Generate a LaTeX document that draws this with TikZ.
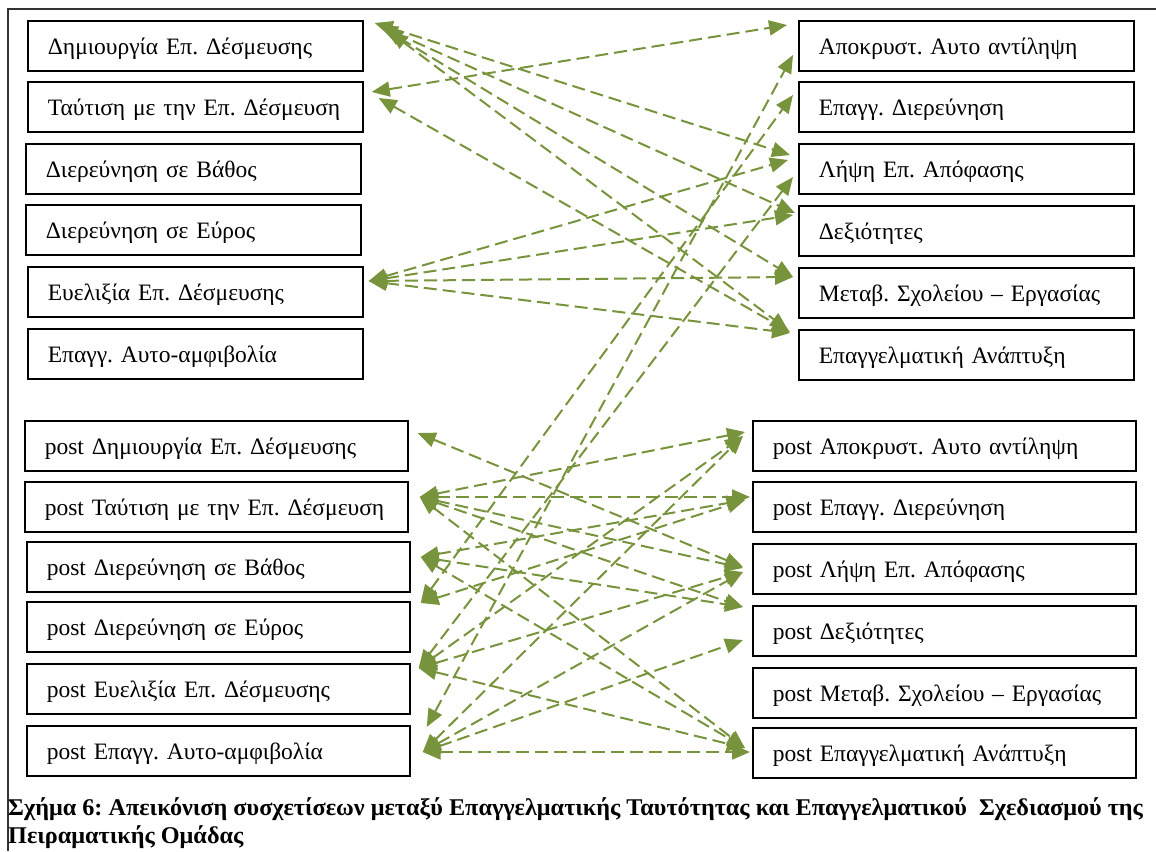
\documentclass[tikz,border=0pt]{standalone}
\usepackage{fontspec}
\setmainfont{Liberation Serif}
\usetikzlibrary{arrows.meta}
\definecolor{olivegr}{HTML}{77933C}
\frenchspacing
\tikzset{
  box/.style={draw=black, line width=1.7pt, anchor=north west, minimum height=50pt,
    inner xsep=20pt, inner ysep=0pt, align=left, text height=20pt, text depth=2pt,
    font=\fontsize{23.5}{26}\selectfont},
  tbox/.style={box, text width=295pt},
  bbox/.style={box, text width=343pt},
  conn/.style={draw=olivegr, line width=2pt, dash pattern=on 13pt off 6pt,
    {Triangle[length=18pt,width=15pt]}-{Triangle[length=18pt,width=15pt]}},
  captxt/.style={anchor=base west, inner sep=0pt, font=\fontsize{24}{28}\selectfont\bfseries},
}
\begin{document}
\begin{tikzpicture}[x=1pt,y=-1pt]
\useasboundingbox (0,0) rectangle (1156,851);
\draw[line width=1.2pt, black!80] (8,851) -- (8,9) -- (1156,9);
% top left
\node[tbox] (L1) at (27,20) {Δημιουργία Επ. Δέσμευσης};
\node[tbox] (L2) at (27,81) {Ταύτιση με την Επ. Δέσμευση};
\node[tbox] (L3) at (25,143) {Διερεύνηση σε Βάθος};
\node[tbox] (L4) at (25,204) {Διερεύνηση σε Εύρος};
\node[tbox] (L5) at (27,266) {Ευελιξία Επ. Δέσμευσης};
\node[tbox] (L6) at (27,328) {Επαγγ. Αυτο-αμφιβολία};
% top right
\node[tbox] (R1) at (798,20) {Αποκρυστ. Αυτο αντίληψη};
\node[tbox] (R2) at (798,81) {Επαγγ. Διερεύνηση};
\node[tbox] (R3) at (798,143) {Λήψη Επ. Απόφασης};
\node[tbox] (R4) at (798,205) {Δεξιότητες};
\node[tbox] (R5) at (798,267) {Μεταβ. Σχολείου – Εργασίας};
\node[tbox] (R6) at (798,329) {Επαγγελματική Ανάπτυξη};
% bottom left
\node[bbox] (P1) at (24,420) {post Δημιουργία Επ. Δέσμευσης};
\node[bbox] (P2) at (24,481) {post Ταύτιση με την Επ. Δέσμευση};
\node[bbox] (P3) at (26,541) {post Διερεύνηση σε Βάθος};
\node[bbox] (P4) at (26,601) {post Διερεύνηση σε Εύρος};
\node[bbox] (P5) at (26,663) {post Ευελιξία Επ. Δέσμευσης};
\node[bbox] (P6) at (26,725) {post Επαγγ. Αυτο-αμφιβολία};
% bottom right
\node[bbox] (Q1) at (752,420) {post Αποκρυστ. Αυτο αντίληψη};
\node[bbox] (Q2) at (752,481) {post Επαγγ. Διερεύνηση};
\node[bbox] (Q3) at (752,543) {post Λήψη Επ. Απόφασης};
\node[bbox] (Q4) at (752,605) {post Δεξιότητες};
\node[bbox] (Q5) at (752,667) {post Μεταβ. Σχολείου – Εργασίας};
\node[bbox] (Q6) at (752,727) {post Επαγγελματική Ανάπτυξη};
% top connectors
\draw[conn] ([shift={(11,3)}]L1.north east) -- ([shift={(-8,12)}]R3.north west);
\draw[conn] ([shift={(16,6)}]L1.north east) -- ([shift={(-3,8)}]R4.north west);
\draw[conn] ([shift={(21,9)}]L1.north east) -- ([shift={(-5,10)}]R5.north west);
\draw[conn] ([shift={(26,12)}]L1.north east) -- ([shift={(-10,1)}]R6.north west);
\draw[conn] ([shift={(8,11)}]L2.north east) -- ([shift={(-11,5)}]R1.north west);
\draw[conn] ([shift={(15,17)}]L2.north east) -- ([shift={(-8,3)}]R6.north west);
\draw[conn] ([shift={(5,15)}]L5.north east) -- ([shift={(-10,17)}]R3.north west);
\draw[conn] ([shift={(5,15)}]L5.north east) -- ([shift={(-5,10)}]R4.north west);
\draw[conn] ([shift={(5,15)}]L5.north east) -- ([shift={(-5,10)}]R5.north west);
\draw[conn] ([shift={(5,15)}]L5.north east) -- ([shift={(-8,4)}]R6.north west);
% long connectors
\draw[conn] ([shift={(16,2)}]P6.north east) -- ([shift={(-5,35)}]R1.north west);
\draw[conn] ([shift={(10,2)}]P4.north east) -- ([shift={(-5,14)}]R2.north west);
\draw[conn] ([shift={(8,5)}]P5.north east) -- ([shift={(-5,34)}]R3.north west);
% bottom connectors
\draw[conn] ([shift={(9,13)}]P1.north east) -- ([shift={(-9,24)}]Q3.north west);
\draw[conn] ([shift={(11,16)}]P2.north east) -- ([shift={(-7,12)}]Q1.north west);
\draw[conn] ([shift={(11,16)}]P2.north east) -- ([shift={(-2,16)}]Q2.north west);
\draw[conn] ([shift={(11,16)}]P2.north east) -- ([shift={(-9,25)}]Q3.north west);
\draw[conn] ([shift={(11,16)}]P2.north east) -- ([shift={(-9,2)}]Q4.north west);
\draw[conn] ([shift={(11,16)}]P2.north east) -- ([shift={(-7,21)}]Q6.north west);
\draw[conn] ([shift={(10,16)}]P3.north east) -- ([shift={(-7,19)}]Q2.north west);
\draw[conn] ([shift={(10,16)}]P3.north east) -- ([shift={(-9,2)}]Q4.north west);
\draw[conn] ([shift={(10,16)}]P3.north east) -- ([shift={(-7,21)}]Q6.north west);
\draw[conn] ([shift={(10,2)}]P4.north east) -- ([shift={(-7,19)}]Q2.north west);
\draw[conn] ([shift={(8,5)}]P5.north east) -- ([shift={(-9,16)}]Q1.north west);
\draw[conn] ([shift={(8,5)}]P5.north east) -- ([shift={(-9,29)}]Q3.north west);
\draw[conn] ([shift={(8,5)}]P5.north east) -- ([shift={(-7,21)}]Q6.north west);
\draw[conn] ([shift={(12,27)}]P6.north east) -- ([shift={(-9,16)}]Q1.north west);
\draw[conn] ([shift={(12,27)}]P6.north east) -- ([shift={(-9,29)}]Q3.north west);
\draw[conn] ([shift={(12,27)}]P6.north east) -- ([shift={(-9,35)}]Q4.north west);
\draw[conn] ([shift={(12,27)}]P6.north east) -- ([shift={(-2,25)}]Q6.north west);
% caption
\node[captxt] (cap1) at (8,815)
  {\scalebox{1.01}[1]{Σχήμα 6: Απεικόνιση συσχετίσεων μεταξύ Επαγγελματικής Ταυτότητας και Επαγγελματικού\ \ Σχεδιασμού της}};
\node[captxt] (cap2) at (8,843)
  {\scalebox{1.01}[1]{Πειραματικής Ομάδας}};
\end{tikzpicture}
\end{document}
